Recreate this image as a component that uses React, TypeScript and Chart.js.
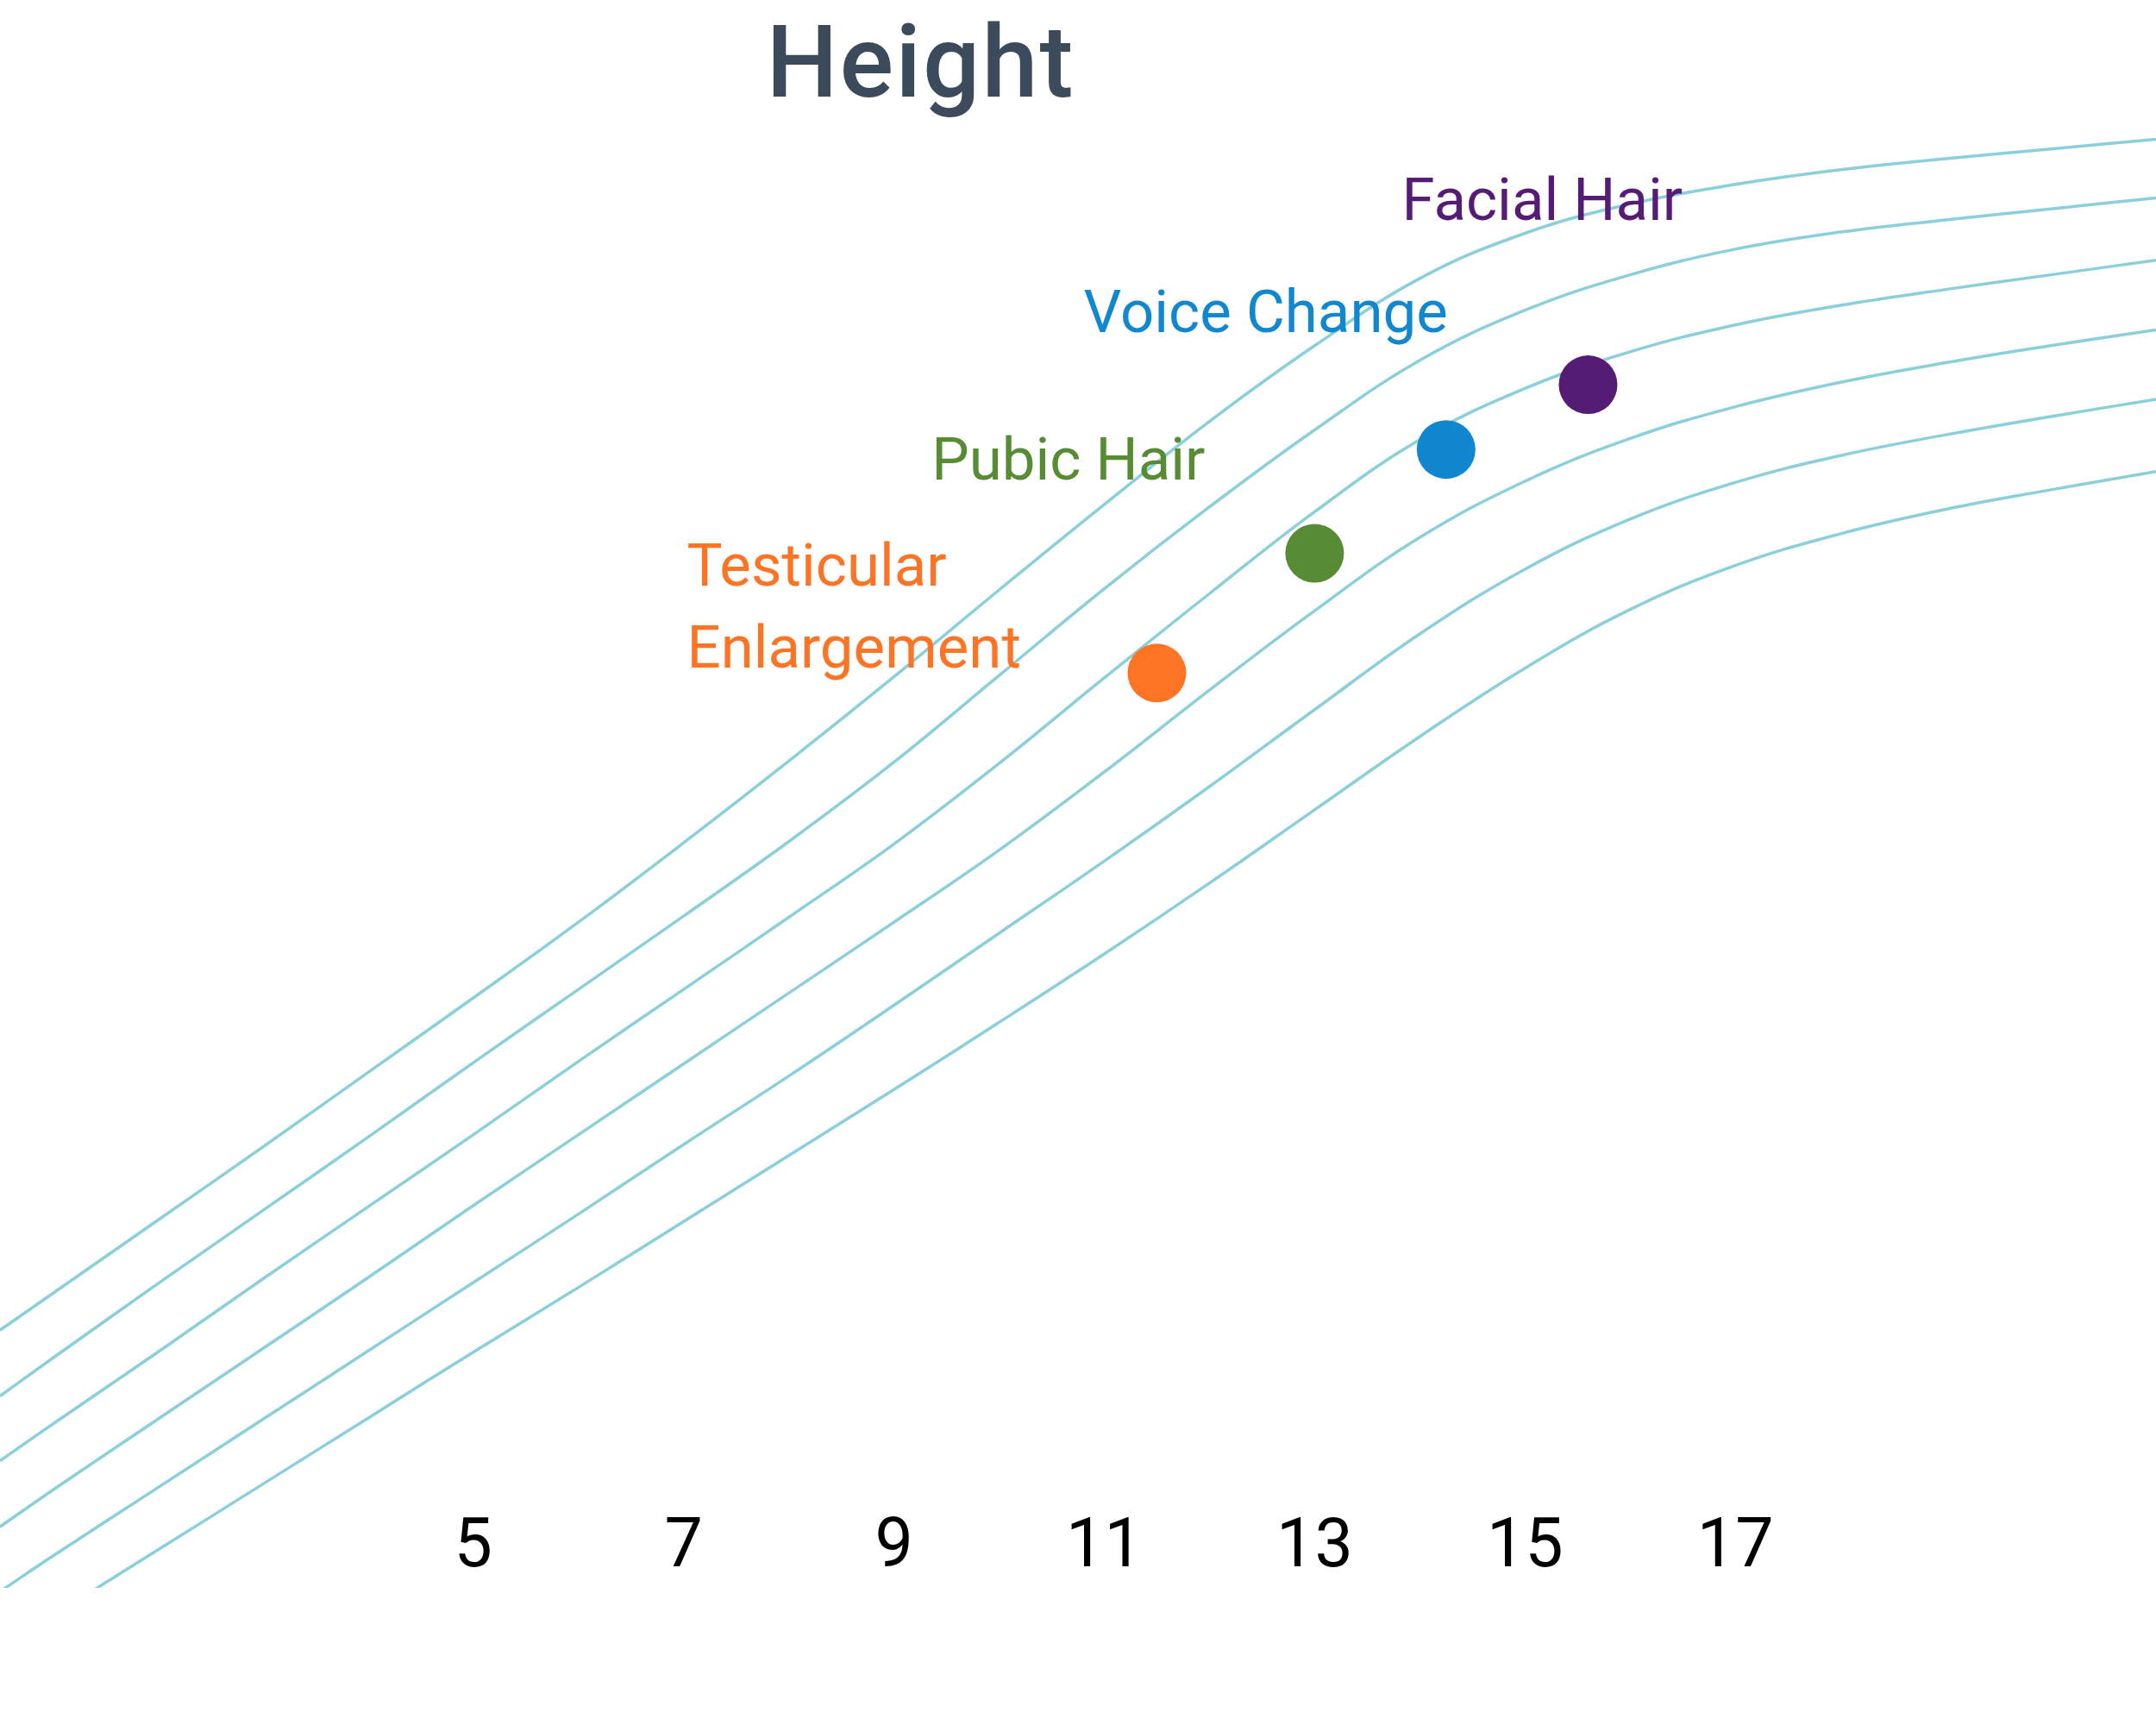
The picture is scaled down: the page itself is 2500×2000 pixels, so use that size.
import React, { useEffect, useRef } from 'react';
import { Chart, registerables } from 'chart.js';

Chart.register(...registerables);

// age in years along the x axis
const ages = [0.5, 1, 2, 3, 4, 5, 6, 7, 8, 9, 10, 11, 12, 13, 14, 15, 16, 17, 18, 19, 20, 21];
const tickAges = [5, 7, 9, 11, 13, 15, 17];

// stature curves (cm), top to bottom
const curve1 = [91.1, 94.1, 100.1, 106.1, 112.2, 118.3, 124.5, 131.0, 137.7, 144.6, 151.7, 158.7, 165.5, 171.7, 177.2, 180.9, 183.3, 184.9, 186.1, 187.0, 187.8, 188.6];
const curve2 = [85.7, 88.8, 94.9, 100.9, 106.9, 113.0, 119.0, 125.0, 131.1, 137.6, 144.7, 151.8, 158.5, 164.8, 170.5, 174.6, 177.5, 179.6, 181.0, 182.0, 182.9, 183.8];
const curve3 = [80.4, 83.4, 89.3, 95.3, 101.2, 107.1, 113.1, 119.0, 124.9, 130.9, 137.5, 144.5, 151.4, 158.1, 164.0, 168.2, 171.2, 173.4, 175.0, 176.3, 177.5, 178.7];
const curve4 = [75.0, 78.0, 83.8, 89.6, 95.4, 101.3, 107.1, 112.9, 118.7, 124.5, 130.4, 136.8, 143.5, 150.0, 156.0, 160.6, 164.1, 166.7, 168.7, 170.3, 171.7, 173.0];
const curve5 = [69.7, 72.6, 78.2, 83.8, 89.4, 95.0, 100.6, 106.3, 111.9, 117.7, 123.6, 129.5, 135.6, 141.9, 148.1, 153.4, 157.5, 160.5, 162.7, 164.4, 165.9, 167.3];
const curve6 = [65.0, 67.7, 73.1, 78.5, 83.9, 89.3, 94.6, 100.0, 105.4, 110.8, 116.3, 121.9, 127.7, 133.7, 139.7, 145.3, 150.1, 153.7, 156.3, 158.3, 159.9, 161.4];
const curves = [curve1, curve2, curve3, curve4, curve5, curve6];

// puberty milestones
const milestoneNames = [['Testicular', 'Enlargement'], ['Pubic Hair'], ['Voice Change'], ['Facial Hair']];
const milestoneAges = [11.5, 13.0, 14.25, 15.6];
const milestoneHeights = [144.9, 154.7, 163.2, 168.5];

const milestoneColors = ['#fd7425', '#578b34', '#1187d0', '#551c75'];
const curveColor = 'rgba(125, 202, 214, 0.9)';

// label offsets from each dot, in pixels
const labelPlacement: { dx: number; dy: number; align: CanvasTextAlign }[] = [
  { dx: -545, dy: -101, align: 'left' },
  { dx: -127, dy: -86, align: 'right' },
  { dx: 2, dy: -136, align: 'right' },
  { dx: -216, dy: -191, align: 'left' },
];

const annotatePlugin = {
  id: 'annotate',
  afterDatasetsDraw(chart: any) {
    const { ctx } = chart;
    const meta = chart.getDatasetMeta(0);
    ctx.save();
    ctx.font = '400 69px Roboto';
    ctx.textBaseline = 'alphabetic';
    meta.data.forEach((pt: any, i: number) => {
      const p = labelPlacement[i];
      ctx.fillStyle = milestoneColors[i];
      ctx.textAlign = p.align;
      milestoneNames[i].forEach((line, j) => {
        ctx.fillText(line, pt.x + p.dx, pt.y + p.dy + j * 95);
      });
    });
    // chart title
    ctx.font = '500 117px Roboto';
    ctx.fillStyle = '#3c4b5b';
    ctx.textAlign = 'center';
    (ctx as any).letterSpacing = '2px';
    ctx.fillText('Height', chart.width * 0.427, 112);
    ctx.restore();
  },
};

export default function App() {
  const canvasRef = useRef<HTMLCanvasElement>(null);

  useEffect(() => {
    document.body.style.margin = '0';
    if (!canvasRef.current) return;

    const chart = new Chart(canvasRef.current, {
      type: 'line',
      data: {
        datasets: [
          {
            type: 'scatter',
            data: milestoneAges.map((a, i) => ({ x: a, y: milestoneHeights[i] })),
            backgroundColor: milestoneColors,
            borderWidth: 0,
            pointRadius: 34,
            pointHoverRadius: 34,
          } as any,
          ...curves.map((c) => ({
            data: c.map((h, i) => ({ x: ages[i], y: h })),
            borderColor: curveColor,
            borderWidth: 3.5,
            pointRadius: 0,
            fill: false,
            tension: 0.4,
          })),
        ],
      },
      options: {
        animation: false,
        responsive: true,
        maintainAspectRatio: false,
        layout: { padding: 0, autoPadding: false },
        plugins: {
          legend: { display: false },
          tooltip: { enabled: false },
          title: { display: false },
        },
        scales: {
          x: {
            type: 'linear',
            min: 0.5,
            max: 21,
            grid: { display: false, drawTicks: false },
            border: { display: false },
            afterBuildTicks: (s: any) => {
              s.ticks = tickAges.map((v) => ({ value: v }));
            },
            afterFit: (s: any) => {
              s.height = 159;
            },
            ticks: {
              color: '#000',
              font: { family: 'Roboto', size: 79 },
              mirror: true,
              padding: -3,
              maxRotation: 0,
              autoSkip: false,
            },
          },
          y: { display: false, min: 70, max: 200 },
        },
      },
      plugins: [annotatePlugin],
    });

    return () => chart.destroy();
  }, []);

  return (
    <div style={{ position: 'relative', width: 2500, height: 2000, background: '#fff' }}>
      <canvas ref={canvasRef} />
    </div>
  );
}
